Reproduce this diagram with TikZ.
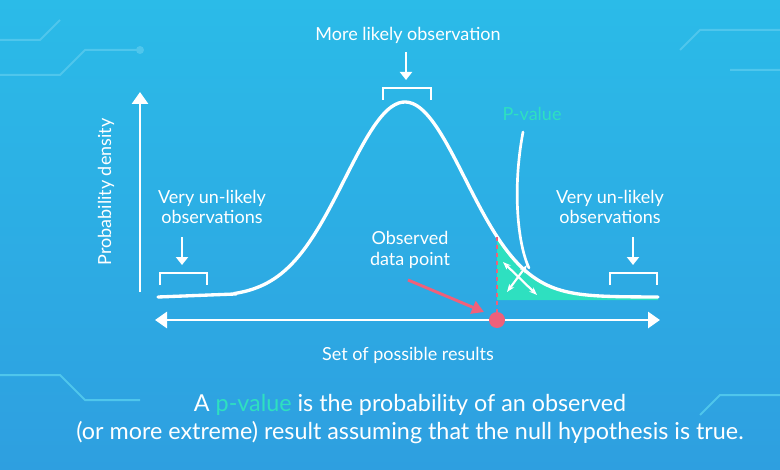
\documentclass[tikz,border=0pt]{standalone}
\usepackage{fontspec}
\setmainfont{Lato}
\usetikzlibrary{arrows.meta}
\definecolor{bgtop}{HTML}{2BBBE8}
\definecolor{bgbot}{HTML}{2E9FE0}
\definecolor{teal}{HTML}{2EE0C0}
\definecolor{pinkred}{HTML}{F0607A}
\definecolor{circ}{HTML}{4FC6EC}
\tikzset{
  lbl/.style={text=white,font=\fontsize{13.5}{15.5}\selectfont,align=center},
  wl/.style={white,line width=2.2pt,line cap=round},
  br/.style={white,line width=1.2pt},
  dn/.style={white,line width=2.2pt,-{Triangle[length=6pt,width=9pt]}},
}
\begin{document}
\begin{tikzpicture}[x=0.75pt,y=-0.75pt]
\useasboundingbox (0,0) rectangle (780,470);
\shade[top color=bgtop,bottom color=bgbot] (0,0) rectangle (780,470);
% faint circuit
\draw[circ,line width=1.5pt] (0,40)--(40,40)--(60,20) (0,75)--(60,75)--(85,50)--(140,50);
\fill[circ] (140,50) circle (4);
\draw[circ,line width=1.5pt] (780,30)--(700,30)--(680,50) (780,70)--(730,70);
\draw[circ,line width=1.5pt] (0,375)--(60,375)--(85,400)--(140,400) (780,395)--(720,395)--(700,415);
% shaded area
\fill[teal] plot[domain=497:658,samples=60,smooth] (\x,{297-195*exp(-((\x-405)/85)^2)}) -- (658,300) -- (497,300) -- cycle;
% curve
\draw[wl,line width=2.5pt] (158,297) -- (235,294) -- plot[domain=235:658,samples=120,smooth] (\x,{297-195*exp(-((\x-405)/85)^2)});
% dashed line
\draw[pinkred,dashed,line width=1pt] (497,237) -- (497,320);
% axes
\draw[white,line width=2.2pt,-{Triangle[length=9pt,width=12pt]}] (140,292) -- (140,92);
\coordinate (xl) at (155,320); \coordinate (xr) at (660,320);
\draw[white,line width=2.2pt,{Triangle[length=9pt,width=12pt]}-{Triangle[length=9pt,width=12pt]}] (xl) -- (xr);
% data point
\node[circle,fill=pinkred,minimum size=12pt,inner sep=0] (dp) at (497,320) {};
\coordinate (ras) at (408,280);
\draw[pinkred,line width=2.2pt,-{Triangle[length=9pt,width=10pt]}] (ras) -- (484,312);
% p-value pointer
\draw[white,line width=2pt,line cap=round] (523,132) .. controls (512,190) and (518,245) .. (529,268);
\draw[white,line width=1.6pt,{Stealth[length=6pt]}-{Stealth[length=6pt]}] (503,262) -- (537,295);
\draw[white,line width=1.6pt,{Stealth[length=6pt]}-{Stealth[length=6pt]}] (527,265) -- (507,292);
% brackets
\draw[br] (383,100)--(383,88)--(431,88)--(431,100);
\draw[br] (160,285)--(160,273)--(207,273)--(207,285);
\draw[br] (610,285)--(610,273)--(657,273)--(657,285);
\draw[dn] (406,52) -- (406,80);
\draw[dn] (182,237) -- (182,265);
\draw[dn] (633,237) -- (633,265);
% labels
\node[lbl] (ml) at (408,35) {More likely observation};
\node[lbl,text=teal] (pv) at (532,114) {P-value};
\node[lbl] (vl) at (212,207) {Very un-likely\\observations};
\node[lbl] (vr) at (610,207) {Very un-likely\\observations};
\node[lbl] (od) at (410,250) {Observed\\data point};
\node[lbl] (sp) at (408,355) {Set of possible results};
\node[lbl,rotate=90] (pd) at (106,192) {Probability density};
\node[text=white,font=\fontsize{17.5}{21}\selectfont,align=center] (cap) at (410,419) {A \textcolor{teal}{p-value} is the probability of an observed\\(or more extreme) result assuming that the null hypothesis is true.};
\end{tikzpicture}
\end{document}
